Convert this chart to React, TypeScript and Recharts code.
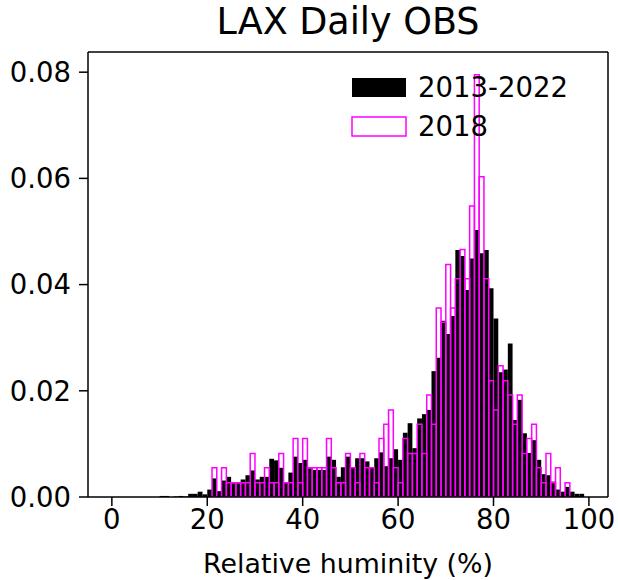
import { BarChart, Bar, XAxis, YAxis, Legend } from "recharts";

const FONT = "'DejaVu Sans', sans-serif";

// relative frequency per 1% RH bin, bins start at 0,1,...,99
const allYears = [
  0, 0, 0, 0, 0, 0, 0, 0, 0, 0,
  0.0002, 0.0002, 0, 0.0001, 0.0002, 0.0001, 0.0006, 0.0006, 0.001, 0.0005,
  0.0014, 0.0035, 0.0011, 0.0031, 0.0038, 0.0026, 0.0026, 0.0033, 0.0041, 0.005,
  0.0033, 0.0038, 0.0038, 0.0072, 0.0069, 0.0055, 0.0028, 0.0046, 0.0076, 0.0064,
  0.007, 0.0054, 0.0051, 0.0051, 0.0051, 0.0076, 0.007, 0.0038, 0.0056, 0.0076,
  0.0056, 0.0073, 0.0073, 0.0067, 0.0056, 0.0073, 0.0084, 0.0058, 0.0073, 0.009,
  0.007, 0.0121, 0.0139, 0.0092, 0.0148, 0.0156, 0.0164, 0.0237, 0.0262, 0.0332,
  0.0307, 0.0341, 0.0465, 0.0454, 0.039, 0.0449, 0.0503, 0.0459, 0.0465, 0.0393,
  0.0336, 0.0235, 0.024, 0.0289, 0.0145, 0.0183, 0.012, 0.0083, 0.0107, 0.007,
  0.0043, 0.0041, 0.0029, 0.0014, 0.001, 0.0019, 0.001, 0.0006, 0.0006, 0,
];

const year2018 = [
  0, 0, 0, 0, 0, 0, 0, 0, 0, 0,
  0, 0, 0, 0, 0, 0, 0, 0, 0, 0,
  0, 0.0055, 0, 0.0055, 0.0027, 0.0027, 0.0027, 0.0027, 0.0027, 0.0082,
  0.0027, 0.0027, 0.0055, 0.0027, 0.0027, 0.0082, 0.0027, 0.0027, 0.011, 0.0027,
  0.011, 0.0055, 0.0055, 0.0055, 0.0055, 0.011, 0.0055, 0.0027, 0.0027, 0.0082,
  0.0055, 0.0027, 0.0082, 0.0055, 0.0055, 0.0027, 0.011, 0.0137, 0.0164, 0.0055,
  0.0027, 0.011, 0.0082, 0.0082, 0.0137, 0.0082, 0.0192, 0.0137, 0.0356, 0.0329,
  0.0438, 0.0356, 0.0411, 0.0466, 0.0411, 0.0548, 0.0795, 0.0603, 0.0411, 0.0219,
  0.0164, 0.0247, 0.0219, 0.0192, 0.0137, 0.0192, 0.0082, 0.011, 0.0137, 0.0055,
  0.0027, 0.0082, 0.0027, 0.0055, 0, 0.0027, 0, 0, 0, 0,
];

const xTicks = [0, 20, 40, 60, 80, 100];
const yTicks = [0, 0.02, 0.04, 0.06, 0.08];
const X_MIN = -5;
const X_MAX = 104;
const Y_MAX = 0.0838;

// empty bins pad the axis out to the matplotlib-style margins
const bins = Array.from({ length: X_MAX - X_MIN }, (_, i) => X_MIN + i);
const rows = bins.map((b) => ({
  bin: b,
  all: b >= 0 && b < allYears.length ? allYears[b] : 0,
  y2018: b >= 0 && b < year2018.length ? year2018[b] : 0,
}));

const W = 618;
const H = 580;
// top / right axes are 1px thick so they draw the frame
const margin = { top: 51, right: 9, bottom: 0, left: 0 };
const yAxisW = 88;
const plotW = W - margin.left - margin.right - 1 - yAxisW;
const band = plotW / bins.length;
const barW = band * 0.999;
const FS = 27.5;

const tickStyle = { fill: "#000", fontSize: FS, fontFamily: FONT };
const line = { stroke: "#000", strokeWidth: 1.5 };

// category ticks sit at band centres; shift to the bin's left edge
function EdgeTick(props: any) {
  const { x, y, payload } = props;
  const ex = x - band / 2;
  return (
    <g>
      <line x1={ex} x2={ex} y1={y - 12} y2={y - 3} stroke="#000" strokeWidth={1.5} />
      <text x={ex} y={y} dy="0.71em" textAnchor="middle" fontSize={FS} fontFamily={FONT} fill="#000">
        {payload.value}
      </text>
    </g>
  );
}

function LegendBox() {
  return (
    <svg width={270} height={80} style={{ fontFamily: FONT }}>
      <rect x={12} y={12} width={54} height={19} fill="#000" />
      <text x={78} y={31} fontSize={FS} fill="#000">2013-2022</text>
      <rect x={12} y={51} width={54} height={19} fill="none" stroke="#ff00ff" strokeWidth={1.5} />
      <text x={78} y={70} fontSize={FS} fill="#000">2018</text>
    </svg>
  );
}

export default function App() {
  return (
    <div style={{ position: "absolute", left: 0, top: 0, width: W, height: H, background: "#fff", fontFamily: FONT }}>
      <div
        style={{
          position: "absolute",
          left: yAxisW,
          width: plotW,
          top: 2,
          textAlign: "center",
          fontSize: 36.5,
          lineHeight: 1.1,
          color: "#000",
        }}
      >
        LAX Daily OBS
      </div>
      <BarChart width={W} height={H} data={rows} margin={margin} barCategoryGap={0} barGap={0}>
        <XAxis
          xAxisId="all"
          dataKey="bin"
          ticks={xTicks}
          interval={0}
          tick={<EdgeTick />}
          tickSize={9}
          tickMargin={3}
          tickLine={false}
          axisLine={line}
          height={83}
          label={{ value: "Relative huminity (%)", position: "insideBottom", offset: 7, fontSize: 26.8, fill: "#000", fontFamily: FONT }}
        />
        <XAxis
          xAxisId="yr"
          dataKey="bin"
          orientation="top"
          tick={false}
          tickLine={false}
          axisLine={line}
          height={1}
        />
        <YAxis
          yAxisId="v"
          type="number"
          domain={[0, Y_MAX]}
          allowDataOverflow
          ticks={yTicks}
          tickFormatter={(v: number) => v.toFixed(2)}
          tick={tickStyle}
          tickSize={9}
          tickMargin={8}
          axisLine={line}
          tickLine={line}
          width={yAxisW}
        />
        <YAxis
          yAxisId="v2"
          orientation="right"
          type="number"
          domain={[0, Y_MAX]}
          allowDataOverflow
          tick={false}
          tickLine={false}
          axisLine={line}
          width={1}
        />
        <Bar xAxisId="all" yAxisId="v" dataKey="all" fill="#000" barSize={barW} isAnimationActive={false} />
        <Bar
          xAxisId="yr"
          yAxisId="v2"
          dataKey="y2018"
          fill="none"
          stroke="#ff00ff"
          strokeWidth={1.5}
          barSize={barW}
          isAnimationActive={false}
        />
        <Legend
          layout="horizontal"
          verticalAlign="middle"
          align="center"
          content={() => <LegendBox />}
          wrapperStyle={{ left: 340, top: 66, width: 270, height: 80 }}
        />
      </BarChart>
    </div>
  );
}
